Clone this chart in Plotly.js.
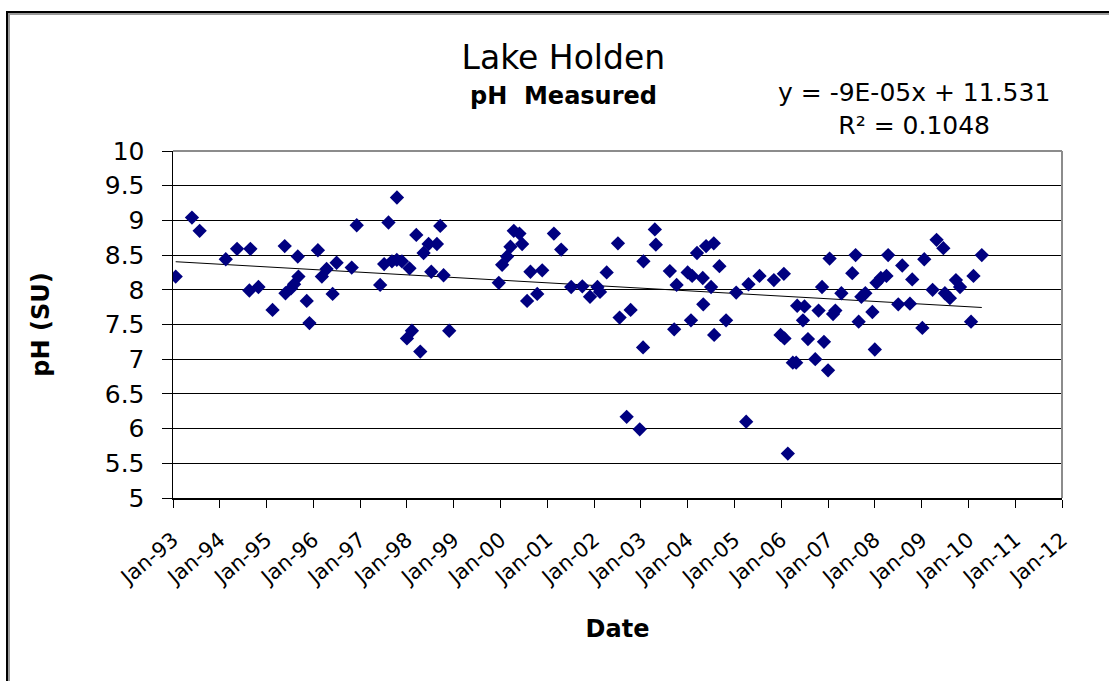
<!DOCTYPE html>
<html>
<head>
<meta charset="utf-8">
<script src="https://cdn.plot.ly/plotly-3.0.1.min.js"></script>
<style>
  html, body { margin: 0; padding: 0; background: #fff; }
  #chart { position: absolute; left: 0; top: 0; width: 1109px; height: 681px; }
  #frame1 { position: absolute; left: 6px; top: 11px; width: 1200px; height: 800px;
            border-left: 2px solid #000; border-top: 2px solid #000; pointer-events: none; }
  #frame2 { position: absolute; left: 8px; top: 13px; width: 1200px; height: 800px;
            border-left: 2px solid #9a9a9a; border-top: 2px solid #9a9a9a; pointer-events: none; }
</style>
</head>
<body>
<div id="chart"></div>
<div id="frame1"></div>
<div id="frame2"></div>
<script>
// ---- data ----
const sampleDates = [
  "1993-01-22","1993-05-29","1993-07-28","1994-02-17","1994-05-16","1994-08-20","1994-08-28","1994-10-30",
  "1995-02-17","1995-05-23","1995-05-29","1995-07-11","1995-08-04","1995-09-02","1995-09-07","1995-11-11",
  "1995-12-02","1996-02-06","1996-03-08","1996-04-14","1996-05-31","1996-07-01","1996-10-27","1996-12-05",
  "1997-06-06","1997-07-07","1997-08-10","1997-09-06","1997-10-14","1997-10-15","1997-11-23","1998-01-01",
  "1998-01-21","1998-02-09","1998-03-15","1998-04-15","1998-05-11","1998-06-19","1998-07-10","1998-08-23",
  "1998-09-18","1998-10-14","1998-11-27","1999-12-19","2000-01-14","2000-02-22","2000-03-19","2000-04-14",
  "2000-05-28","2000-06-18","2000-07-27","2000-08-22","2000-10-14","2000-11-22","2001-02-21","2001-04-19",
  "2001-07-06","2001-10-01","2001-11-30","2002-01-27","2002-02-16","2002-04-09","2002-07-06","2002-07-19",
  "2002-09-12","2002-10-13","2002-12-23","2003-01-18","2003-01-21","2003-04-20","2003-04-28","2003-08-15",
  "2003-09-18","2003-10-07","2004-01-01","2004-01-27","2004-02-05","2004-03-14","2004-04-28","2004-05-02",
  "2004-05-24","2004-07-02","2004-07-23","2004-07-26","2004-09-05","2004-10-27","2005-01-14","2005-04-02",
  "2005-04-20","2005-07-15","2005-11-04","2005-12-26","2006-01-21","2006-01-26","2006-02-21","2006-04-01",
  "2006-04-27","2006-05-05","2006-06-19","2006-07-01","2006-07-28","2006-09-23","2006-10-19","2006-11-15",
  "2006-11-30","2007-01-01","2007-01-13","2007-02-09","2007-02-27","2007-04-15","2007-07-09","2007-08-04",
  "2007-08-28","2007-09-18","2007-10-19","2007-12-13","2008-01-01","2008-01-14","2008-02-17","2008-04-01",
  "2008-04-14","2008-07-02","2008-08-02","2008-10-01","2008-10-19","2009-01-06","2009-01-21","2009-03-27",
  "2009-04-27","2009-06-19","2009-07-01","2009-08-09","2009-09-25","2009-10-27","2010-01-21","2010-02-09",
  "2010-04-15"
];
const phValues = [
  8.19,9.04,8.85,8.44,8.59,7.99,8.59,8.04,
  7.71,8.63,7.95,8.02,8.08,8.48,8.19,7.84,
  7.52,8.57,8.19,8.30,7.94,8.39,8.32,8.93,
  8.07,8.37,8.97,8.41,8.43,9.33,8.41,7.30,
  8.31,7.41,8.79,7.11,8.53,8.66,8.26,8.66,
  8.92,8.21,7.41,8.10,8.36,8.48,8.62,8.85,
  8.81,8.66,7.84,8.26,7.94,8.28,8.81,8.58,
  8.04,8.05,7.90,8.04,7.97,8.25,8.67,7.60,
  6.17,7.71,5.99,7.17,8.41,8.87,8.65,8.27,
  7.43,8.07,8.25,7.56,8.20,8.53,8.17,7.79,
  8.63,8.04,8.67,7.35,8.34,7.56,7.96,6.10,
  8.08,8.20,8.14,7.35,8.23,7.30,5.64,6.95,
  6.95,7.77,7.56,7.76,7.29,7.00,7.70,8.04,
  7.25,6.84,8.45,7.65,7.70,7.95,8.24,8.50,
  7.54,7.90,7.95,7.68,7.14,8.10,8.17,8.20,
  8.50,7.79,8.35,7.80,8.15,7.45,8.44,8.00,
  8.72,8.60,7.95,7.88,8.14,8.04,7.54,8.20,
  8.50
];
const yearTicks = ["1993","1994","1995","1996","1997","1998","1999","2000","2001","2002",
                   "2003","2004","2005","2006","2007","2008","2009","2010","2011","2012"];
const yearTickLabels = ["Jan-93","Jan-94","Jan-95","Jan-96","Jan-97","Jan-98","Jan-99","Jan-00","Jan-01","Jan-02",
                        "Jan-03","Jan-04","Jan-05","Jan-06","Jan-07","Jan-08","Jan-09","Jan-10","Jan-11","Jan-12"];
const yTickVals = [5,5.5,6,6.5,7,7.5,8,8.5,9,9.5,10];
const yTickLabels = ["5","5.5","6","6.5","7","7.5","8","8.5","9","9.5","10"];
const chartTitle = "Lake Holden";
const chartSubtitle = "pH&nbsp; Measured";
const equationText = "y = -9E-05x + 11.531";
const r2Text = "R² = 0.1048";

// ---- linear trend (least squares over the data) ----
const xs = sampleDates.map(d => new Date(d + "T00:00:00Z").getTime());
const n = xs.length;
const mx = xs.reduce((a,b)=>a+b,0)/n;
const my = phValues.reduce((a,b)=>a+b,0)/n;
let sxy = 0, sxx = 0;
for (let i = 0; i < n; i++) { sxy += (xs[i]-mx)*(phValues[i]-my); sxx += (xs[i]-mx)*(xs[i]-mx); }
const slope = sxy/sxx, icpt = my - slope*mx;
const tx0 = Math.min(...xs), tx1 = Math.max(...xs);
const trendX = [new Date(tx0).toISOString().slice(0,10), new Date(tx1).toISOString().slice(0,10)];
const trendY = [icpt + slope*tx0, icpt + slope*tx1];

const F = "DejaVu Sans, Arial, sans-serif";

const traces = [
  { x: trendX, y: trendY, mode: "lines", type: "scatter",
    line: { color: "#000", width: 1 }, hoverinfo: "skip", showlegend: false },
  { x: sampleDates, y: phValues, mode: "markers", type: "scatter",
    marker: { symbol: "diamond", size: 11, color: "#000080", line: { width: 0 } },
    showlegend: false }
];

const layout = {
  width: 1109, height: 681,
  margin: { l: 173, r: 47, t: 151, b: 183, pad: 0 },
  paper_bgcolor: "#fff", plot_bgcolor: "#fff",
  showlegend: false,
  font: { family: F, color: "#000" },
  title: {
    text: chartTitle,
    font: { family: F, size: 33, color: "#000" },
    x: 0.508, xref: "container", xanchor: "center",
    y: 1 - 57/681, yref: "container", yanchor: "middle"
  },
  xaxis: {
    type: "date",
    range: ["1993-01-01", "2012-01-01"],
    tickvals: yearTicks.map(y => y + "-01-01"),
    ticktext: yearTickLabels,
    tickangle: -40,
    tickfont: { family: F, size: 21, color: "#000" },
    ticks: "outside", ticklen: 8, tickwidth: 1, tickcolor: "#000",
    ticklabelstandoff: 12,
    showgrid: false, zeroline: false,
    showline: true, linecolor: "#000", linewidth: 1.5,
    title: { text: "<b>Date</b>", font: { family: F, size: 24, color: "#000" }, standoff: 31 }
  },
  yaxis: {
    range: [5, 10],
    tickvals: yTickVals, ticktext: yTickLabels,
    tickfont: { family: F, size: 25, color: "#000" },
    ticks: "outside", ticklen: 10, tickwidth: 1, tickcolor: "#000",
    ticklabelstandoff: 12,
    showgrid: true, gridcolor: "#000", gridwidth: 1,
    zeroline: false,
    showline: true, linecolor: "#000", linewidth: 1.5,
    title: { text: "<b>pH (SU)</b>", font: { family: F, size: 24, color: "#000" }, standoff: 48 }
  },
  shapes: [
    { type: "line", xref: "paper", yref: "paper", x0: 0, x1: 1, y0: 1, y1: 1,
      line: { color: "#8c8c8c", width: 2 }, layer: "above" },
    { type: "line", xref: "paper", yref: "paper", x0: 1, x1: 1, y0: 0, y1: 1,
      line: { color: "#8c8c8c", width: 2 }, layer: "above" }
  ],
  annotations: [
    { text: "<b>" + chartSubtitle + "</b>", xref: "paper", yref: "paper",
      x: (563 - 173)/889, y: (498 - 96)/347, xanchor: "center", yanchor: "middle",
      showarrow: false, font: { family: F, size: 24, color: "#000" } },
    { text: equationText + "<br>" + r2Text, xref: "paper", yref: "paper",
      x: (914 - 173)/889, y: (498 - 109)/347, xanchor: "center", yanchor: "middle",
      showarrow: false, align: "center", font: { family: F, size: 25, color: "#000" } }
  ]
};

Plotly.newPlot("chart", traces, layout, { staticPlot: true, displayModeBar: false });
</script>
</body>
</html>
